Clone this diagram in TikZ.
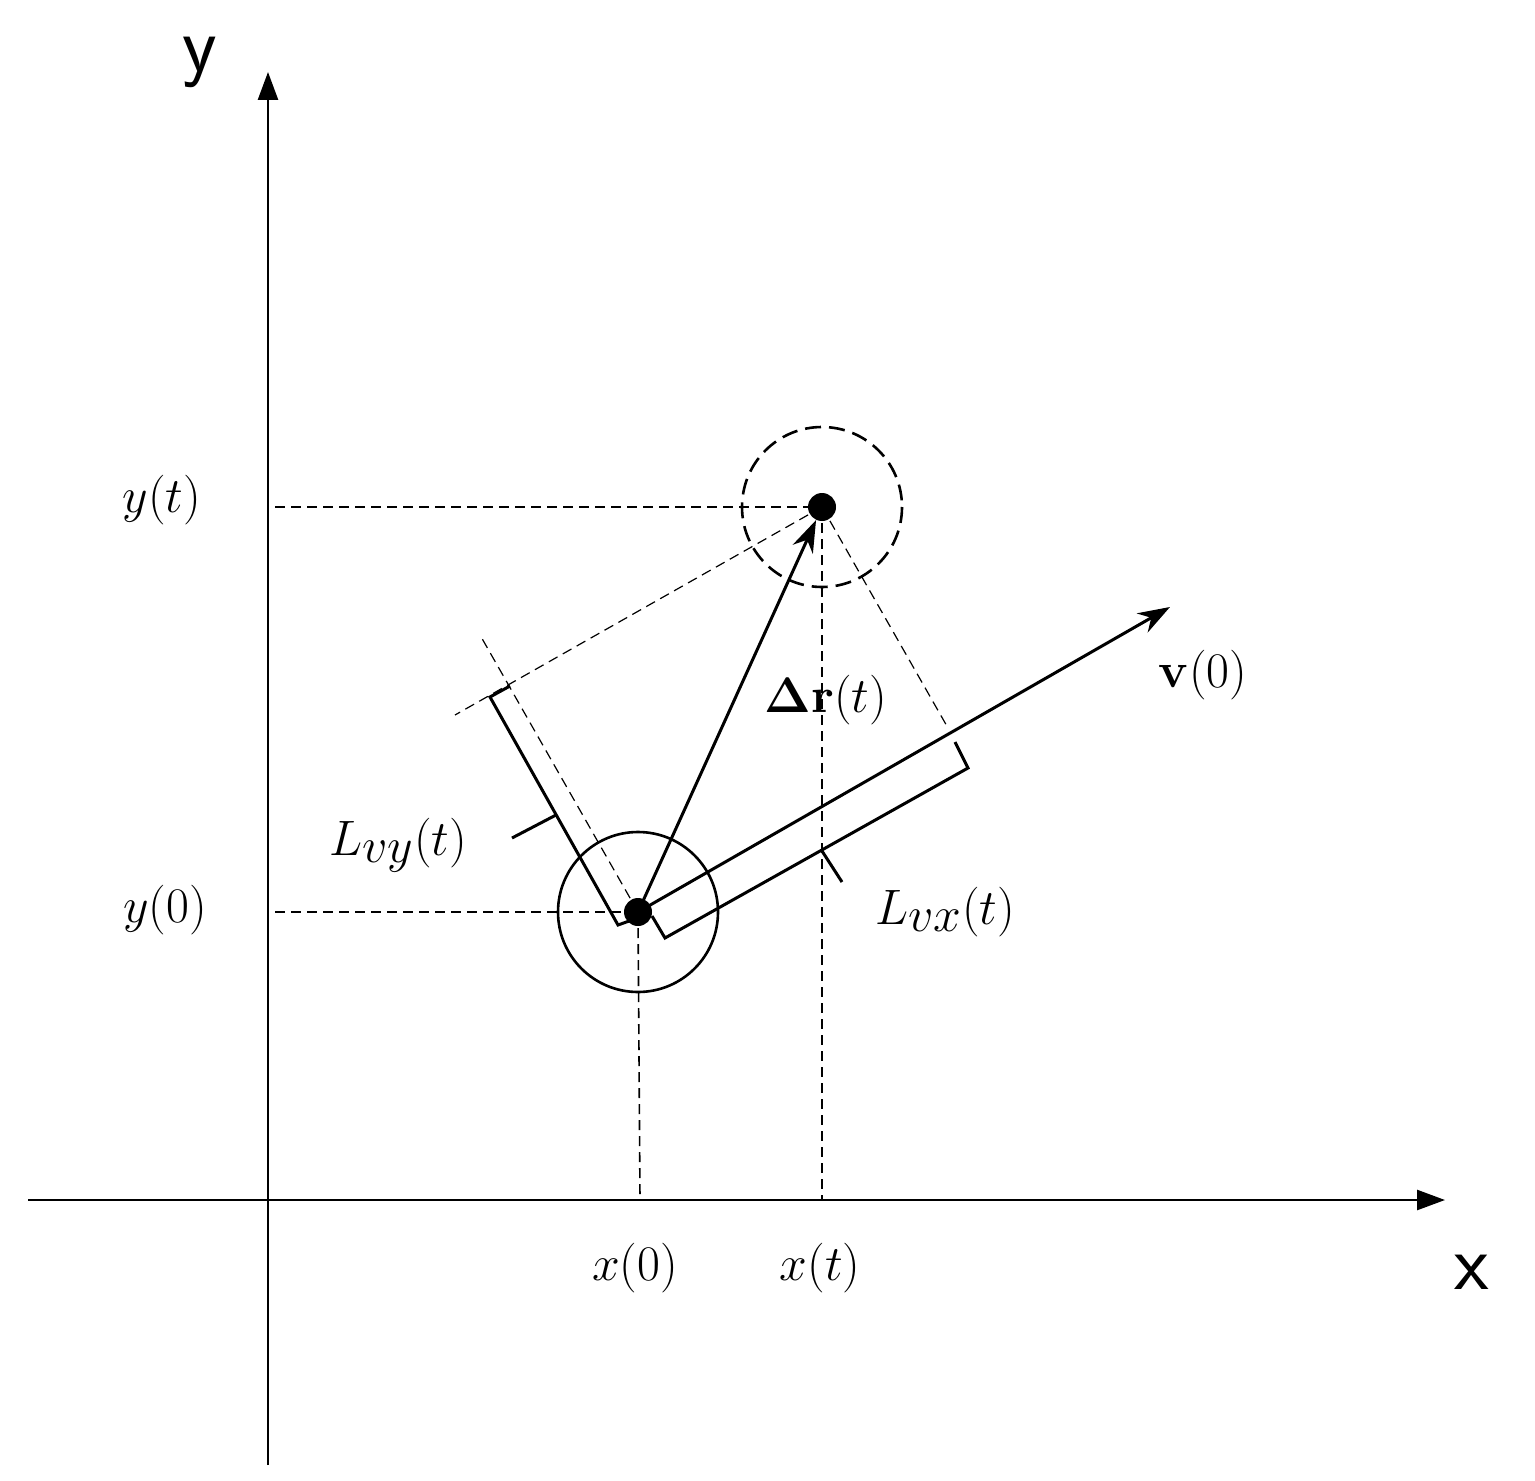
\documentclass[tikz,border=0pt]{standalone}
\usepackage{amsmath,bm}
\usetikzlibrary{arrows.meta}
\begin{document}
\begin{tikzpicture}[x=0.5pt,y=-0.5pt,
  ax/.style={line width=1.3pt,-{Triangle[length=14pt,width=10pt]}},
  solid1/.style={line width=1.5pt},
  dsh/.style={line width=0.8pt,dash pattern=on 5pt off 3pt},
  lbl/.style={font=\fontsize{40}{48}\selectfont},
  dot/.style={circle,fill=black,inner sep=0pt,minimum size=14pt}]
\useasboundingbox (0,0) rectangle (1535,1481);
% axes
\coordinate (ybot) at (268,1465); \coordinate (ytop) at (268,72);
\coordinate (xl) at (28,1200); \coordinate (xr) at (1445,1200);
\draw[ax] (ybot) -- (ytop);
\draw[ax] (xl) -- (xr);
\node[font=\fontsize{40}{48}\selectfont\sffamily] (ylab) at (200,62) {y};
\node[font=\fontsize{40}{48}\selectfont\sffamily] (xlab) at (1472,1272) {x};
% points
\node[dot] (p0) at (638,912) {};
\node[dot] (pt) at (822,507) {};
\draw[line width=1.3pt] (p0) circle[radius=80];
\draw[line width=1.3pt,dash pattern=on 8pt off 4pt] (pt) circle[radius=80];
% projection dashed
\coordinate (yta) at (275,507); \coordinate (y0a) at (275,912);
\coordinate (x0a) at (640,1200); \coordinate (xta) at (822,1200);
\draw[dsh] (yta) -- (pt.center);
\draw[dsh] (y0a) -- (p0.center);
\draw[dsh] (p0.center) -- (x0a);
\draw[dsh] (pt.center) -- (xta);
% decomposition dashed
\coordinate (d1) at (455,715); \coordinate (d2) at (948,728);
\coordinate (d3) at (480,635);
\draw[dsh,line width=0.6pt] (pt.center) -- (d1);
\draw[dsh,line width=0.6pt] (pt.center) -- (d2);
\draw[dsh,line width=0.6pt] (p0.center) -- (d3);
% vectors
\coordinate (vend) at (1170,607);
\draw[solid1,-{Stealth[length=16pt,width=11pt]}] (p0.center) -- (vend);
\draw[solid1,-{Stealth[length=16pt,width=11pt]}] (p0.center) -- (pt);
% Lvx bracket
\coordinate (bx1) at (652,916); \coordinate (bx2) at (665,938);
\coordinate (bx3) at (968,768); \coordinate (bx4) at (955,742);
\draw[solid1] (bx1) -- (bx2) -- (bx3) -- (bx4);
\coordinate (bxm) at (822,851); \coordinate (bxl) at (842,882);
\draw[solid1] (bxm) -- (bxl);
% Lvy bracket
\coordinate (by1) at (632,920); \coordinate (by2) at (618,925);
\coordinate (by3) at (490,697); \coordinate (by4) at (510,686);
\draw[solid1] (by1) -- (by2) -- (by3) -- (by4);
\coordinate (bym) at (556,815); \coordinate (byl) at (512,838);
\draw[solid1] (bym) -- (byl);
% labels
\node[lbl] (lyt) at (162,500) {$y(t)$};
\node[lbl] (ly0) at (165,910) {$y(0)$};
\node[lbl] (lx0) at (635,1268) {$x(0)$};
\node[lbl] (lxt) at (820,1268) {$x(t)$};
\node[lbl] (ldr) at (826,700) {$\boldsymbol{\Delta}\mathbf{r}(t)$};
\node[lbl] (lv) at (1203,675) {$\mathbf{v}(0)$};
\node[lbl] (lvy) at (398,845) {$L_{vy}(t)$};
\node[lbl] (lvx) at (945,912) {$L_{vx}(t)$};
\end{tikzpicture}
\end{document}
